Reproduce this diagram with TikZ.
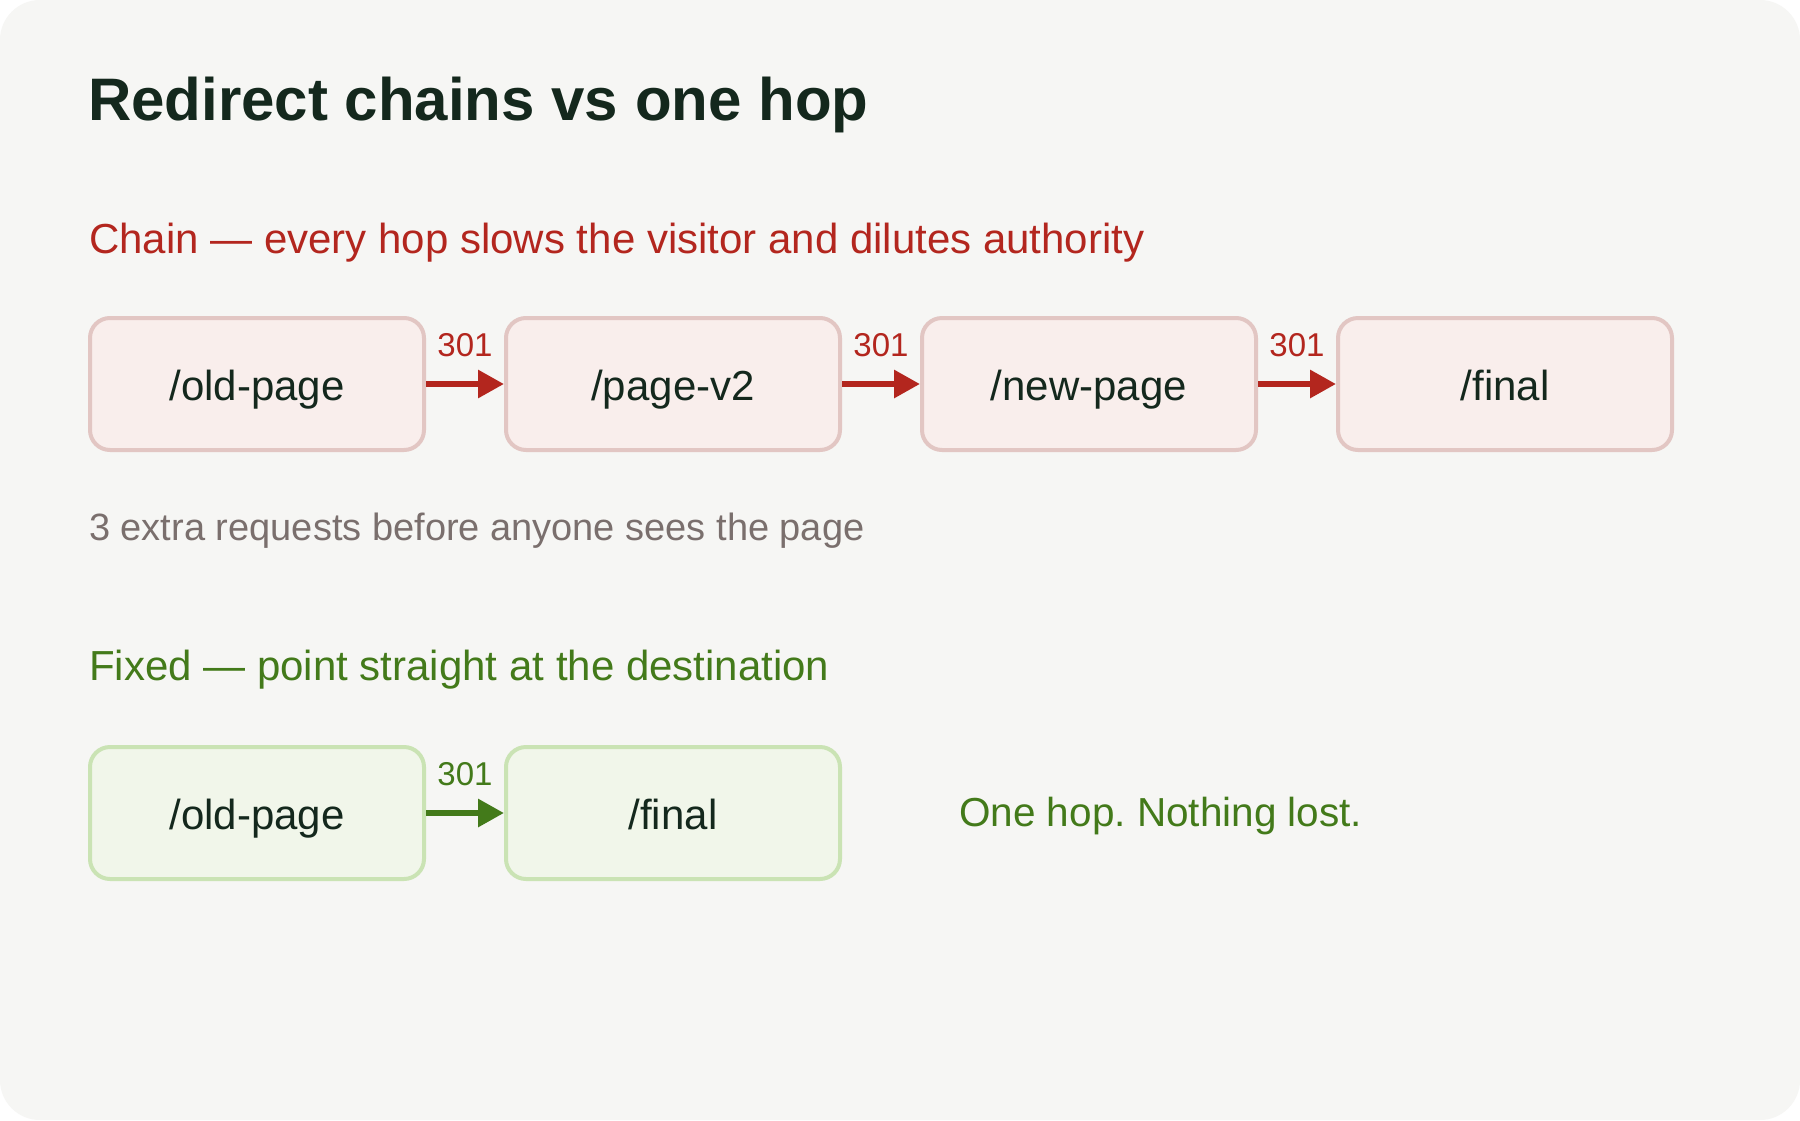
\documentclass[tikz,border=0pt]{standalone}
\usepackage{fontspec}
\setmainfont{Liberation Sans}
\usetikzlibrary{arrows.meta,positioning}

\definecolor{pagebg}{HTML}{F6F6F4}
\definecolor{titleink}{HTML}{14281D}
\definecolor{chainred}{HTML}{B3261E}
\definecolor{fixgreen}{HTML}{437A1A}
\definecolor{noteink}{HTML}{7A6F6D}
\definecolor{chainfill}{HTML}{F9EEEC}
\definecolor{chainline}{HTML}{E2C6C3}
\definecolor{fixfill}{HTML}{F1F6EA}
\definecolor{fixline}{HTML}{CAE3B4}

\tikzset{
  hopbox/.style={rounded corners=20pt, minimum width=334pt, minimum height=132pt,
    line width=4pt, text=titleink, font=\fontsize{42}{50}\selectfont,
    text height=41pt, text depth=9pt, inner sep=0pt},
  chainbox/.style={hopbox, draw=chainline, fill=chainfill},
  fixbox/.style={hopbox, draw=fixline, fill=fixfill},
  hoparrow/.style={line width=6pt, -{Triangle[length=26pt,width=27pt]}},
  hoplabel/.style={font=\fontsize{33}{38}\selectfont, anchor=base, yshift=28pt},
  heading/.style={anchor=base west, inner sep=0pt, font=\fontsize{42}{50}\selectfont},
}

\begin{document}
\frenchspacing
\begin{tikzpicture}[x=1pt,y=-1pt]

\useasboundingbox (0,0) rectangle (1800,1120) ;
\fill [white] (0,0) rectangle (1800,1120) ;
\fill [pagebg, rounded corners=40pt] (0,0) rectangle (1800,1120) ;

\node [anchor=base west, inner sep=0pt, text=titleink, font=\fontsize{60}{70}\selectfont\bfseries] (title) at (88,120) {Redirect chains vs one hop} ;

% the chain
\node [heading, text=chainred] (chainhead) at (89,253) {Chain — every hop slows the visitor and dilutes authority} ;

\node [chainbox] (old) at (257,384) {/old-page} ;
\node [chainbox, right=78pt of old] (v2) {/page-v2} ;
\node [chainbox, right=78pt of v2] (new) {/new-page} ;
\node [chainbox, right=78pt of new] (final) {/final} ;

\draw [hoparrow, chainred] (old) to node [hoplabel] {301} (v2) ;
\draw [hoparrow, chainred] (v2) to node [hoplabel] {301} (new) ;
\draw [hoparrow, chainred] (new) to node [hoplabel] {301} (final) ;

\node [anchor=base west, inner sep=0pt, text=noteink, font=\fontsize{38}{45}\selectfont] (note) at (89,540) {3 extra requests before anyone sees the page} ;

% the fix
\node [heading, text=fixgreen] (fixhead) at (89,680) {Fixed — point straight at the destination} ;

\node [fixbox] (fold) at (257,813) {/old-page} ;
\node [fixbox, right=78pt of fold] (ffinal) {/final} ;

\draw [hoparrow, fixgreen] (fold) to node [hoplabel] {301} (ffinal) ;

\node [anchor=base west, inner sep=0pt, text=fixgreen, font=\fontsize{40.5}{48}\selectfont] (lost) at (959,826) {One hop. Nothing lost.} ;

\end{tikzpicture}
\end{document}
